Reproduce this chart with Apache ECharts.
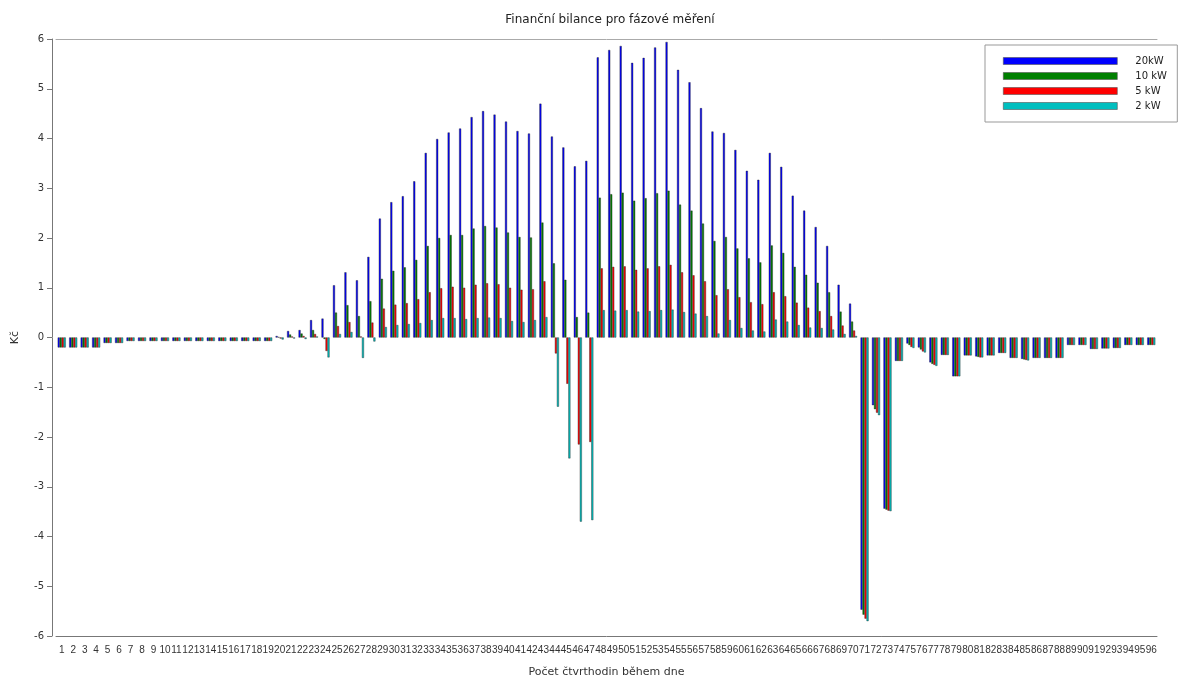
<!DOCTYPE html>
<html>
<head>
<meta charset="utf-8">
<script src="https://cdn.jsdelivr.net/npm/echarts@6/dist/echarts.min.js"></script>
<style>
html, body { margin: 0; padding: 0; background: #fff; }
#chart { width: 1184px; height: 680px; }
</style>
</head>
<body>
<div id="chart"></div>
<script>
// kategorie: čtvrthodiny 1..96
var categories = [];
for (var i = 1; i <= 96; i++) categories.push(String(i));

var seriesNames = ["20kW", "10 kW", "5 kW", "2 kW"];
var yTicks = [-6, -5, -4, -3, -2, -1, 0, 1, 2, 3, 4, 5, 6];

var p20 = [
  -0.2, -0.2, -0.2, -0.2, -0.11, -0.11, -0.07, -0.07, -0.07, -0.07,
  -0.07, -0.07, -0.07, -0.07, -0.07, -0.07, -0.07, -0.07, -0.07, 0.03,
  0.13, 0.15, 0.35, 0.38, 1.05, 1.31, 1.15, 1.62, 2.39, 2.72,
  2.84, 3.14, 3.71, 3.99, 4.12, 4.2, 4.43, 4.55, 4.48, 4.34,
  4.15, 4.1, 4.7, 4.04, 3.82, 3.44, 3.55, 5.63, 5.78, 5.86,
  5.52, 5.62, 5.83, 5.94, 5.38, 5.13, 4.61, 4.14, 4.11, 3.77,
  3.35, 3.17, 3.71, 3.43, 2.85, 2.55, 2.22, 1.84, 1.06, 0.68,
  -5.47, -1.36, -3.44, -0.47, -0.12, -0.2, -0.5, -0.35, -0.78, -0.36,
  -0.38, -0.36, -0.31, -0.41, -0.43, -0.41, -0.41, -0.41, -0.15, -0.15,
  -0.23, -0.22, -0.21, -0.15, -0.15, -0.15
];
var p10 = [
  -0.2, -0.2, -0.2, -0.2, -0.11, -0.11, -0.07, -0.07, -0.07, -0.07,
  -0.07, -0.07, -0.07, -0.07, -0.07, -0.07, -0.07, -0.07, -0.07, 0.01,
  0.06, 0.08, 0.15, -0.03, 0.5, 0.65, 0.43, 0.73, 1.18, 1.34,
  1.41, 1.56, 1.84, 2.0, 2.06, 2.06, 2.19, 2.24, 2.21, 2.11,
  2.02, 2.01, 2.31, 1.49, 1.16, 0.41, 0.5, 2.81, 2.88, 2.91,
  2.75, 2.8, 2.9, 2.95, 2.67, 2.55, 2.29, 1.94, 2.02, 1.79,
  1.59, 1.51, 1.85, 1.7, 1.42, 1.26, 1.1, 0.91, 0.52, 0.32,
  -5.57, -1.44, -3.46, -0.47, -0.15, -0.24, -0.53, -0.35, -0.78, -0.36,
  -0.39, -0.36, -0.31, -0.41, -0.44, -0.41, -0.41, -0.41, -0.15, -0.15,
  -0.23, -0.22, -0.21, -0.15, -0.15, -0.15
];
var p5 = [
  -0.2, -0.2, -0.2, -0.2, -0.11, -0.11, -0.07, -0.07, -0.07, -0.07,
  -0.07, -0.07, -0.07, -0.07, -0.07, -0.07, -0.07, -0.07, -0.07, -0.02,
  0.02, 0.03, 0.07, -0.27, 0.23, 0.31, 0.02, 0.3, 0.58, 0.66,
  0.69, 0.77, 0.91, 0.99, 1.02, 1.0, 1.06, 1.09, 1.07, 1.0,
  0.96, 0.97, 1.13, -0.32, -0.93, -2.15, -2.1, 1.39, 1.42, 1.43,
  1.36, 1.39, 1.43, 1.46, 1.31, 1.25, 1.13, 0.85, 0.97, 0.81,
  0.71, 0.67, 0.91, 0.83, 0.7, 0.6, 0.53, 0.43, 0.24, 0.14,
  -5.65, -1.51, -3.48, -0.47, -0.19, -0.28, -0.55, -0.35, -0.78, -0.36,
  -0.4, -0.36, -0.31, -0.41, -0.45, -0.41, -0.41, -0.41, -0.15, -0.15,
  -0.23, -0.22, -0.21, -0.15, -0.15, -0.15
];
var p2 = [
  -0.2, -0.2, -0.2, -0.2, -0.11, -0.11, -0.07, -0.07, -0.07, -0.07,
  -0.07, -0.07, -0.07, -0.07, -0.07, -0.07, -0.07, -0.07, -0.07, -0.04,
  -0.02, -0.03, 0.02, -0.4, 0.07, 0.11, -0.41, -0.08, 0.21, 0.25,
  0.27, 0.29, 0.35, 0.39, 0.39, 0.37, 0.39, 0.4, 0.39, 0.33,
  0.31, 0.35, 0.41, -1.39, -2.43, -3.7, -3.67, 0.55, 0.54, 0.55,
  0.52, 0.53, 0.55, 0.56, 0.51, 0.48, 0.43, 0.08, 0.35, 0.19,
  0.14, 0.12, 0.36, 0.32, 0.25, 0.2, 0.19, 0.16, 0.07, 0.03,
  -5.7, -1.56, -3.49, -0.47, -0.21, -0.3, -0.57, -0.35, -0.78, -0.36,
  -0.4, -0.36, -0.31, -0.41, -0.46, -0.41, -0.41, -0.41, -0.15, -0.15,
  -0.23, -0.22, -0.21, -0.15, -0.15, -0.15
];

var colors = ["#0000ff", "#008000", "#ff0000", "#00bfbf"];
var values = [p20, p10, p5, p2];

var font = "'DejaVu Sans', sans-serif";
var axisColor = "#777";

var myChart = echarts.init(document.getElementById("chart"));

var series = [];
for (var s = 0; s < 4; s++) {
  series.push({
    name: seriesNames[s],
    type: "bar",
    xAxisIndex: 0,
    barGap: "0%",
    barCategoryGap: "30%",
    itemStyle: {
      color: colors[s],
      borderColor: "#222",
      borderWidth: 0.4
    },
    data: values[s]
  });
}

myChart.setOption({
  animation: false,
  color: colors,
  title: {
    text: "Finanční bilance pro fázové měření",
    left: 605,
    textAlign: "center",
    top: 9,
    textStyle: { fontSize: 12, fontWeight: "normal", color: "#222", fontFamily: font }
  },
  legend: {
    orient: "vertical",
    left: 985,
    top: 45,
    padding: [11, 10, 11, 18],
    itemWidth: 114,
    itemHeight: 7,
    itemGap: 5,
    borderColor: "#999",
    borderWidth: 1,
    icon: "rect",
    itemStyle: { borderColor: "#555", borderWidth: 0.6 },
    textStyle: { fontSize: 10, lineHeight: 10, color: "#222", fontFamily: font, width: 32, padding: [0, 0, 0, 13] },
    data: seriesNames
  },
  grid: {
    left: 56,
    right: 27,
    top: 39,
    bottom: 44,
    outerBoundsMode: "none"
  },
  xAxis: [{
    type: "category",
    data: categories,
    position: "bottom",
    name: "Počet čtvrthodin během dne",
    nameLocation: "middle",
    nameGap: 31,
    nameTextStyle: { fontSize: 11, color: "#333", fontFamily: font },
    axisLine: { onZero: false, lineStyle: { color: axisColor } },
    axisTick: { alignWithLabel: true, length: 5, lineStyle: { color: axisColor } },
    axisLabel: { interval: 0, fontSize: 10, margin: 9, color: "#333", fontFamily: "'Liberation Sans', sans-serif" },
    splitLine: { show: false }
  }, {
    type: "category",
    data: categories,
    position: "top",
    axisLine: { onZero: false, lineStyle: { color: "#aaa" } },
    axisTick: { show: false },
    axisLabel: { show: false },
    splitLine: { show: false }
  }],
  yAxis: {
    type: "value",
    min: yTicks[0],
    max: yTicks[yTicks.length - 1],
    interval: 1,
    offset: 4,
    name: "Kč",
    nameLocation: "middle",
    nameGap: 31,
    nameTextStyle: { fontSize: 11, color: "#333", fontFamily: font },
    axisLine: { show: true, lineStyle: { color: axisColor } },
    axisTick: { show: true, length: 5, lineStyle: { color: axisColor } },
    axisLabel: { fontSize: 10, margin: 8, color: "#333", fontFamily: font },
    splitLine: { show: false }
  },
  series: series
});

window.addEventListener("resize", function () {
  myChart.resize();
});
</script>
</body>
</html>
